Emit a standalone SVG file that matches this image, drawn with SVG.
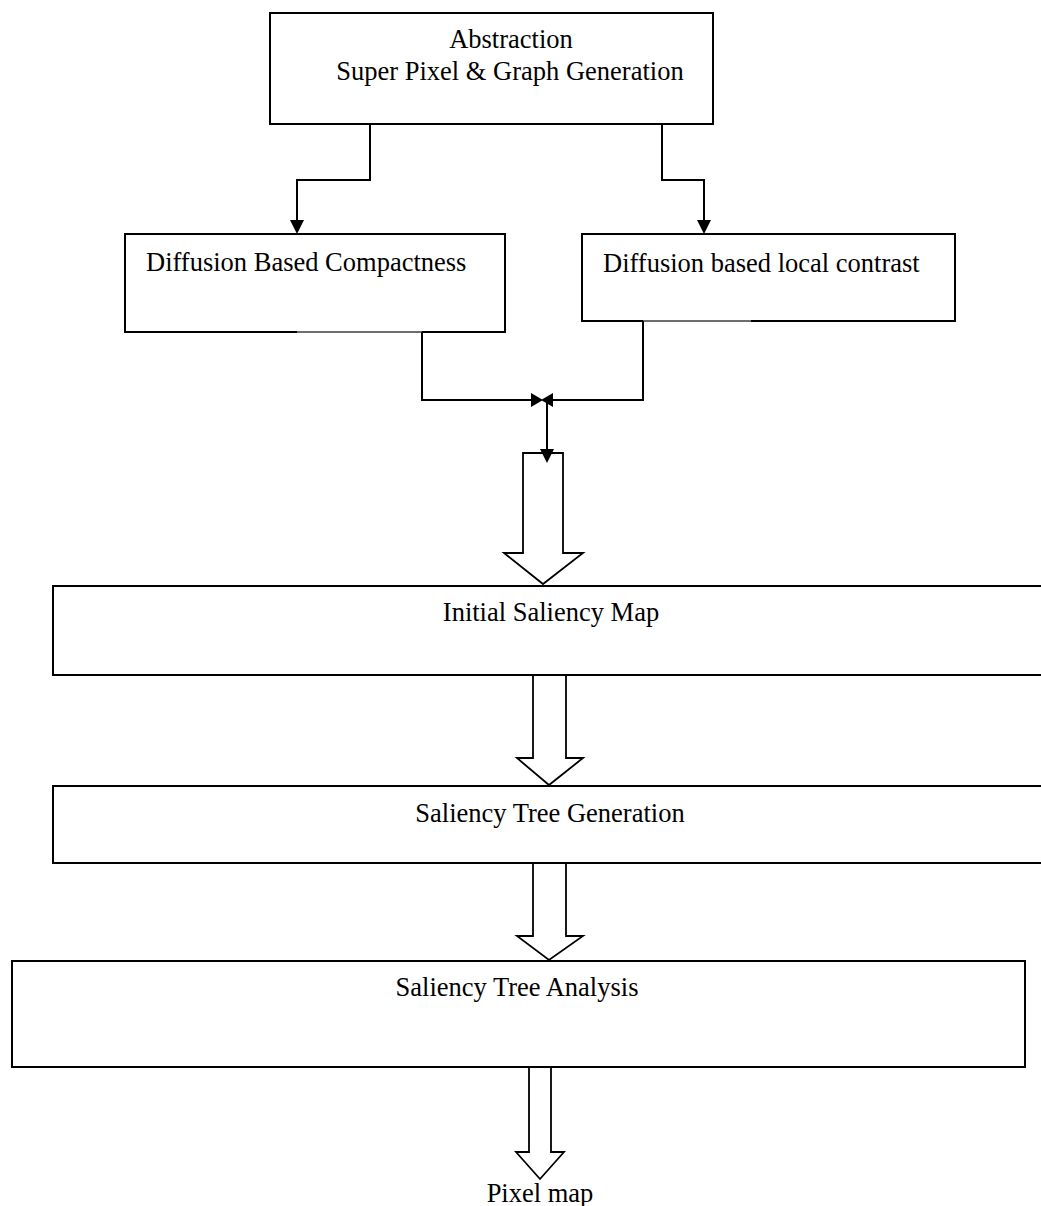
<svg xmlns="http://www.w3.org/2000/svg" width="1041" height="1206" viewBox="0 0 1041 1206">
<style>
  .box { fill: #fff; stroke: #000; stroke-width: 2; }
  .t { font-family: "Liberation Serif", "Times New Roman", serif; font-size: 26.5px; fill: #000; }
  .c { text-anchor: middle; }
  .ln { fill: none; stroke: #000; stroke-width: 2; }
  .gray { fill: none; stroke: #6e6e6e; stroke-width: 2; }
  .blk { fill: #fff; stroke: #000; stroke-width: 1.8; stroke-linejoin: miter; }
  .head { fill: #000; stroke: none; }
</style>
<rect width="1041" height="1206" fill="#fff"/>
<g id="node-abstraction">
  <rect class="box" x="270" y="13" width="443" height="111"/>
  <text class="t c" x="511" y="48">Abstraction</text>
  <text class="t c" x="510" y="80">Super Pixel &amp; Graph Generation</text>
</g>
<g id="node-compactness">
  <rect class="box" x="125" y="234" width="380" height="98"/>
  <text class="t" x="146" y="271">Diffusion Based Compactness</text>
</g>
<g id="node-contrast">
  <rect class="box" x="582" y="234" width="373" height="87"/>
  <text class="t" x="603" y="272">Diffusion based local contrast</text>
</g>
<g id="node-initial">
  <rect class="box" x="53" y="586" width="1000" height="89"/>
  <text class="t c" x="551" y="621">Initial Saliency Map</text>
</g>
<g id="node-tree-generation">
  <rect class="box" x="53" y="786" width="1000" height="77"/>
  <text class="t c" x="550" y="822">Saliency Tree Generation</text>
</g>
<g id="node-tree-analysis">
  <rect class="box" x="12" y="961" width="1013" height="106"/>
  <text class="t c" x="517" y="996">Saliency Tree Analysis</text>
</g>
<g id="node-pixel-map">
  <text class="t c" x="540" y="1202">Pixel map</text>
</g>
<g id="connectors">
  <polyline class="ln" points="370,124 370,180 297,180 297,221"/>
  <polygon class="head" points="290,220 304,220 297,234"/>
  <polyline class="ln" points="662,124 662,180 704,180 704,221"/>
  <polygon class="head" points="697,220 711,220 704,234"/>
  <line class="gray" x1="297" y1="332" x2="422" y2="332"/>
  <polyline class="ln" points="422,332 422,400 533,400"/>
  <line class="gray" x1="643" y1="321" x2="751" y2="321"/>
  <polyline class="ln" points="643,321 643,400 551,400"/>
  <polygon class="head" points="531,393 531,407 543,400"/>
  <polygon class="head" points="553,393 553,407 541,400"/>
  <line class="ln" x1="547" y1="400" x2="547" y2="450"/>
  <polygon class="blk" points="523,453 563,453 563,553 583,553 543,584 504,553 523,553"/>
  <polygon class="head" points="540,449 554,449 547,463"/>
  <polygon class="blk" points="533,675 566,675 566,758 583,758 549,785 517,758 533,758"/>
  <polygon class="blk" points="533,863 566,863 566,936 583,936 549,960 517,936 533,936"/>
  <polygon class="blk" points="529,1067 551,1067 551,1152 564,1152 540,1179 516,1152 529,1152"/>
</g>
</svg>
